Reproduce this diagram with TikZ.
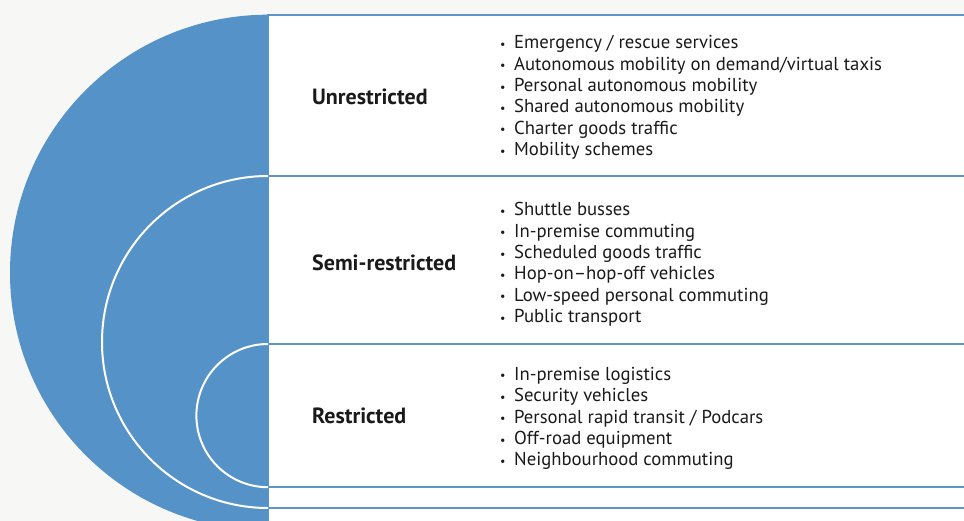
\documentclass[tikz,border=0pt]{standalone}
\usepackage{fontspec}
\setmainfont{PT Sans}
\definecolor{paper}{HTML}{F7F7F5}
\definecolor{ringblue}{HTML}{5592C8}
\definecolor{rulecol}{HTML}{5B95CC}
\definecolor{ink}{HTML}{1A1A1A}
\newcommand{\bul}{\makebox[14pt][l]{\fontsize{12}{12}\selectfont\raisebox{0.5pt}{•}}}
\tikzset{
  rowpanel/.style={fill=white, draw=rulecol, line width=2pt},
  ring/.style={fill=ringblue, draw=white, line width=2pt},
  tierlabel/.style={anchor=west, inner sep=0pt, text=ink, font=\fontsize{22}{24}\selectfont\bfseries},
  itemlist/.style={anchor=west, inner sep=0pt, text=ink, align=left, font=\fontsize{18.7}{21.4}\selectfont},
}
\begin{document}
\begin{tikzpicture}[x=1pt,y=-1pt]
\useasboundingbox (0,0) rectangle (964,521);
\fill[paper] (0,0) rectangle (964,521);
\begin{scope}
\clip (0,0) rectangle (964,521);
% row panels on the right
\draw[rowpanel] (268,14.7) rectangle (975,540);
\draw[rowpanel] (268,176) rectangle (975,508);
\draw[rowpanel] (268,14.7) rectangle (975,176);
\draw[rowpanel] (268,344) rectangle (975,487.3);
\coordinate (c1) at (268,272.7);
\coordinate (c2) at (268,342);
\coordinate (c3) at (268,415.6);
% nested half discs on the left
\begin{scope}
\clip (0,0) rectangle (268,521);
\fill[ringblue] (c1) circle (258);
\draw[ring] (c2) circle (166);
\draw[ring] (c3) circle (71.6);
\end{scope}
\end{scope}
% tier names
\node[tierlabel] (unres) at (312,97) {Unrestricted};
\node[tierlabel] (semi) at (312,263) {Semi-restricted};
\node[tierlabel] (restr) at (312,416) {Restricted};
% use cases per tier
\node[itemlist] (unreslist) at (500,97.5) {\bul Emergency / rescue services\\
\bul Autonomous mobility on demand/virtual taxis\\
\bul Personal autonomous mobility\\
\bul Shared autonomous mobility\\
\bul Charter goods traffic\\
\bul Mobility schemes};
\node[itemlist] (semilist) at (500,264.5) {\bul Shuttle busses\\
\bul In-premise commuting\\
\bul Scheduled goods traffic\\
\bul Hop-on--hop-off vehicles\\
\bul Low-speed personal commuting\\
\bul Public transport};
\node[itemlist] (restrlist) at (500,418.5) {\bul In-premise logistics\\
\bul Security vehicles\\
\bul Personal rapid transit / Podcars\\
\bul Off-road equipment\\
\bul Neighbourhood commuting};
\end{tikzpicture}
\end{document}
